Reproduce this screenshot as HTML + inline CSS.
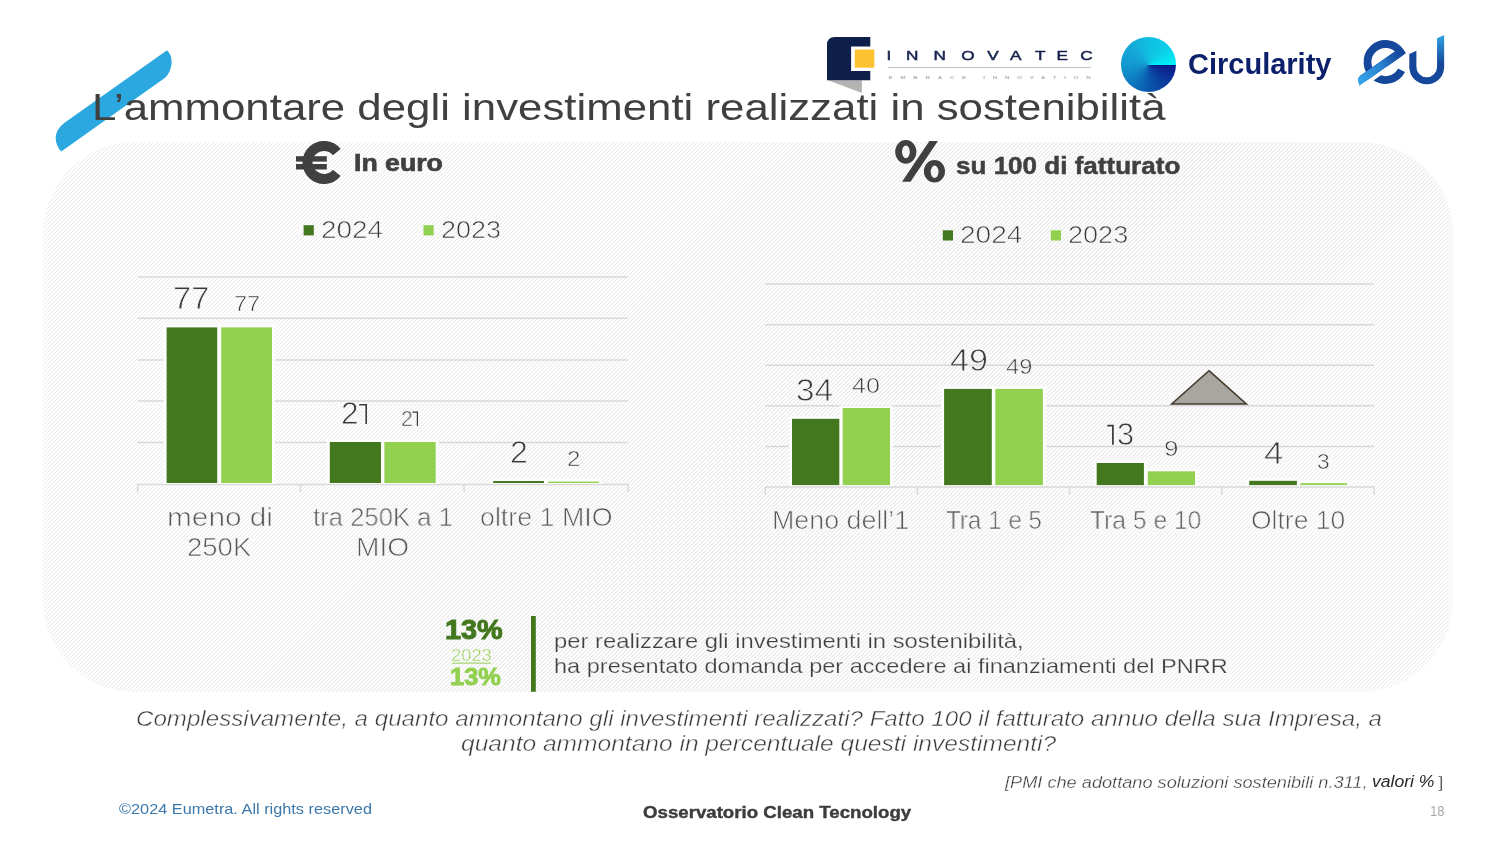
<!DOCTYPE html>
<html><head><meta charset="utf-8"><title>slide</title>
<style>
html,body{margin:0;padding:0;background:#fff;}
body{width:1500px;height:844px;position:relative;overflow:hidden;font-family:"Liberation Sans", sans-serif;}
.t{position:absolute;white-space:nowrap;line-height:1;transform-origin:0 0;will-change:transform;}
#panel{position:absolute;left:42.5px;top:141.5px;width:1410px;height:550.5px;border-radius:92px;
background:repeating-linear-gradient(135deg,#ffffff 0,#ffffff 1.3px,#ededed 1.7px,#ededed 2.35px,#ffffff 2.83px);}
svg.abs{position:absolute;left:0;top:0;will-change:transform;}
</style></head><body>
<div style="position:absolute;left:1121.3px;top:37px;width:55px;height:54.6px;border-radius:50%;z-index:5;background:conic-gradient(from 90deg at 50% 51%,#0a1c8c 0deg,#0a3a9c 45deg,#0a58ae 90deg,#0e7cc0 135deg,#1398d0 180deg,#13a8d8 225deg,#10bfe0 270deg,#0ccde7 315deg,#05e4f1 345deg,#00f2f6 360deg);"></div>
<div id="panel"></div>
<svg class="abs" width="1500" height="844" viewBox="0 0 1500 844">
<path d="M64.9 122.5L167 50.2Q172 55 171.6 63Q171 72 165.1 77.7L61.3 151.6Q56 146 55.6 138Q56 129 64.9 122.5Z" fill="#2ba8e0"/>
<line x1="137.5" x2="627.8" y1="277.1" y2="277.1" stroke="#d9d9d9" stroke-width="1.5"/>
<line x1="137.5" x2="627.8" y1="318.3" y2="318.3" stroke="#d9d9d9" stroke-width="1.5"/>
<line x1="137.5" x2="627.8" y1="359.9" y2="359.9" stroke="#d9d9d9" stroke-width="1.5"/>
<line x1="137.5" x2="627.8" y1="401.1" y2="401.1" stroke="#d9d9d9" stroke-width="1.5"/>
<line x1="137.5" x2="627.8" y1="442.4" y2="442.4" stroke="#d9d9d9" stroke-width="1.5"/>
<path d="M137.6 492V484.6H300.5V492M300.5 484.6H464.1V492M464.1 484.6H628.1V492" fill="none" stroke="#d9d9d9" stroke-width="1.5"/>
<line x1="765.2" x2="1374" y1="284.1" y2="284.1" stroke="#d9d9d9" stroke-width="1.5"/>
<line x1="765.2" x2="1374" y1="324.8" y2="324.8" stroke="#d9d9d9" stroke-width="1.5"/>
<line x1="765.2" x2="1374" y1="365.3" y2="365.3" stroke="#d9d9d9" stroke-width="1.5"/>
<line x1="765.2" x2="1374" y1="405.8" y2="405.8" stroke="#d9d9d9" stroke-width="1.5"/>
<line x1="765.2" x2="1374" y1="446.6" y2="446.6" stroke="#d9d9d9" stroke-width="1.5"/>
<path d="M765.2 494.6V487H917.4V494.6M917.4 487H1069.6V494.6M1069.6 487H1221.8V494.6M1221.8 487H1374V494.6" fill="none" stroke="#d9d9d9" stroke-width="1.5"/>
<rect x="163.6" y="324.9" width="56.6" height="159.1" fill="#fdfdfd"/>
<rect x="218.2" y="324.9" width="56.8" height="159.1" fill="#fdfdfd"/>
<rect x="326.8" y="439.5" width="57.2" height="44.5" fill="#fdfdfd"/>
<rect x="381.4" y="439.5" width="57.3" height="44.5" fill="#fdfdfd"/>
<rect x="490.2" y="478.5" width="56.8" height="5.5" fill="#fdfdfd"/>
<rect x="545.0" y="479.1" width="56.9" height="4.9" fill="#fdfdfd"/>
<rect x="789.0" y="416.3" width="53.3" height="69.8" fill="#fdfdfd"/>
<rect x="839.7" y="405.5" width="53.3" height="80.6" fill="#fdfdfd"/>
<rect x="941.1" y="386.4" width="53.7" height="99.7" fill="#fdfdfd"/>
<rect x="992.3" y="386.4" width="53.6" height="99.7" fill="#fdfdfd"/>
<rect x="1093.7" y="460.5" width="53.2" height="25.6" fill="#fdfdfd"/>
<rect x="1144.8" y="468.8" width="53.2" height="17.3" fill="#fdfdfd"/>
<rect x="1246.2" y="478.3" width="53.7" height="7.8" fill="#fdfdfd"/>
<rect x="1297.3" y="480.7" width="52.8" height="5.4" fill="#fdfdfd"/>
<rect x="166.6" y="327.4" width="50.6" height="155.6" fill="#43781f"/>
<rect x="221.2" y="327.4" width="50.8" height="155.6" fill="#92d050"/>
<rect x="329.8" y="442.0" width="51.2" height="41.0" fill="#43781f"/>
<rect x="384.4" y="442.0" width="51.3" height="41.0" fill="#92d050"/>
<rect x="493.2" y="481.0" width="50.8" height="2.0" fill="#43781f"/>
<rect x="548.0" y="481.6" width="50.9" height="1.4" fill="#92d050"/>
<rect x="792.0" y="418.8" width="47.3" height="66.3" fill="#43781f"/>
<rect x="842.7" y="408.0" width="47.3" height="77.1" fill="#92d050"/>
<rect x="944.1" y="388.9" width="47.7" height="96.2" fill="#43781f"/>
<rect x="995.3" y="388.9" width="47.6" height="96.2" fill="#92d050"/>
<rect x="1096.7" y="463.0" width="47.2" height="22.1" fill="#43781f"/>
<rect x="1147.8" y="471.3" width="47.2" height="13.8" fill="#92d050"/>
<rect x="1249.2" y="480.8" width="47.7" height="4.3" fill="#43781f"/>
<rect x="1300.3" y="483.2" width="46.8" height="1.9" fill="#92d050"/>
<rect x="303.6" y="225.2" width="10.2" height="10.2" fill="#43781f"/>
<rect x="423.5" y="225.2" width="10.2" height="10.2" fill="#92d050"/>
<rect x="942.8" y="230.3" width="10.2" height="10.2" fill="#43781f"/>
<rect x="1050.8" y="230.3" width="10.2" height="10.2" fill="#92d050"/>
<path d="M1209 370.7L1246.3 403.95H1171.7Z" fill="#a9a5a0" stroke="#463c30" stroke-width="1.6" stroke-linejoin="miter"/>
<path d="M359.2 404.8H366.2V424.1" fill="none" stroke="#3a3a3a" stroke-width="1.6"/>
<path d="M412.5 412.2H417.4V426.1" fill="none" stroke="#3a3a3a" stroke-width="1.2"/>
<path d="M1107.3 425.7H1112.9V444.8" fill="none" stroke="#3a3a3a" stroke-width="1.7"/>
<rect x="531" y="616" width="4.8" height="75.8" fill="#43781f"/>
<rect x="452" y="662.6" width="39" height="1" fill="#92d050"/>
<path d="M336.82 152.07A16.5 16.5 0 1 0 336.82 172.83" fill="none" stroke="#404040" stroke-width="10"/>
<rect x="296" y="156.2" width="30.8" height="5.4" fill="#404040"/>
<rect x="296" y="164" width="30.8" height="5.5" fill="#404040"/>
<path fill-rule="evenodd" fill="#404040" d="M895.2 151.8a10.6 11.9 0 1 0 21.2 0a10.6 11.9 0 1 0 -21.2 0ZM902 151.8a3.9 6.35 0 1 0 7.8 0a3.9 6.35 0 1 0 -7.8 0Z"/>
<path fill-rule="evenodd" fill="#404040" d="M923.9 171.2a10.55 11.3 0 1 0 21.1 0a10.55 11.3 0 1 0 -21.1 0ZM930.7 171.8a3.9 6.2 0 1 0 7.8 0a3.9 6.2 0 1 0 -7.8 0Z"/>
<path fill="#404040" d="M929.4 141H937.9L910.5 181.8H902Z"/>
<path d="M828 80.3H861.9V93Z" fill="#b3b3b3"/>
<path d="M835 37H870.3V46.6H851.1V71H870.3V80.3H827V45Q827 37 835 37Z" fill="#0f1f4b"/>
<rect x="854.8" y="49.5" width="19.5" height="18.2" fill="#fcc230"/>
<text transform="translate(889,59.8) scale(1.42,1)" text-anchor="middle" font-size="12.1" font-weight="400" stroke="#16224d" stroke-width="0.45" fill="#16224d" font-family="Liberation Sans">I</text>
<text transform="translate(912.1,59.8) scale(1.42,1)" text-anchor="middle" font-size="12.1" font-weight="400" stroke="#16224d" stroke-width="0.45" fill="#16224d" font-family="Liberation Sans">N</text>
<text transform="translate(939.7,59.8) scale(1.42,1)" text-anchor="middle" font-size="12.1" font-weight="400" stroke="#16224d" stroke-width="0.45" fill="#16224d" font-family="Liberation Sans">N</text>
<text transform="translate(967.85,59.8) scale(1.42,1)" text-anchor="middle" font-size="12.1" font-weight="400" stroke="#16224d" stroke-width="0.45" fill="#16224d" font-family="Liberation Sans">O</text>
<text transform="translate(993,59.8) scale(1.42,1)" text-anchor="middle" font-size="12.1" font-weight="400" stroke="#16224d" stroke-width="0.45" fill="#16224d" font-family="Liberation Sans">V</text>
<text transform="translate(1015.65,59.8) scale(1.42,1)" text-anchor="middle" font-size="12.1" font-weight="400" stroke="#16224d" stroke-width="0.45" fill="#16224d" font-family="Liberation Sans">A</text>
<text transform="translate(1040.3,59.8) scale(1.42,1)" text-anchor="middle" font-size="12.1" font-weight="400" stroke="#16224d" stroke-width="0.45" fill="#16224d" font-family="Liberation Sans">T</text>
<text transform="translate(1062.2,59.8) scale(1.42,1)" text-anchor="middle" font-size="12.1" font-weight="400" stroke="#16224d" stroke-width="0.45" fill="#16224d" font-family="Liberation Sans">E</text>
<text transform="translate(1086.45,59.8) scale(1.42,1)" text-anchor="middle" font-size="12.1" font-weight="400" stroke="#16224d" stroke-width="0.45" fill="#16224d" font-family="Liberation Sans">C</text>
<rect x="888" y="67.1" width="203" height="0.7" fill="#a6aab5"/>
<text transform="translate(888.6,78.9) scale(0.62,0.42)" font-size="10" font-weight="700" fill="#b0b0b0" font-family="Liberation Sans" textLength="326" lengthAdjust="spacing">EMBRACE  INNOVATION</text>
<defs><linearGradient id="gu" gradientUnits="userSpaceOnUse" x1="0" y1="36" x2="0" y2="64"><stop offset="0" stop-color="#2fa0e2"/><stop offset="1" stop-color="#15479b"/></linearGradient><linearGradient id="ge" gradientUnits="userSpaceOnUse" x1="1358" y1="82" x2="1400" y2="52.6"><stop offset="0" stop-color="#37a6e6"/><stop offset="0.55" stop-color="#2a82d3"/><stop offset="0.85" stop-color="#1a56a9"/><stop offset="1" stop-color="#15479b"/></linearGradient></defs>
<path d="M1362 79.25L1400.61 52.22A18.0 18.0 0 1 0 1401.54 70.17" fill="none" stroke="#15479b" stroke-width="7.8" stroke-linejoin="miter" stroke-miterlimit="10"/>
<path d="M1364.6 84.4L1387.3 68.5" fill="none" stroke="#fff" stroke-width="3.8"/>
<path d="M1359.4 85.7L1357.9 81Q1357.5 77.6 1360.6 75.6L1399.0 48.72L1402.5 55.47Z" fill="url(#ge)"/>
<path d="M1409.3 54L1416.4 50.7V67.2H1409.3Z" fill="#15479b"/>
<path d="M1412.85 66.9A13.875 13.875 0 0 0 1440.6 66.9" fill="none" stroke="#15479b" stroke-width="7.1"/>
<path d="M1437.05 38.3L1444.15 35V67.2H1437.05Z" fill="url(#gu)"/>
</svg>
<div class="t" style="left:92.28px;top:88.87px;font-size:37.6px;color:#404040;transform:scaleX(1.1655);">L’ammontare degli investimenti realizzati in sostenibilità</div>
<div class="t" style="left:354.12px;top:151.08px;font-size:24px;color:#404040;transform:scaleX(1.1103);font-weight:700;-webkit-text-stroke:0.7px #404040;">In euro</div>
<div class="t" style="left:956.33px;top:153.98px;font-size:24px;color:#404040;transform:scaleX(1.0851);font-weight:700;-webkit-text-stroke:0.5px #404040;">su 100 di fatturato</div>
<div class="t" style="left:320.67px;top:217.75px;font-size:24.77px;color:#3a3a3a;transform:scaleX(1.1265);-webkit-text-stroke:0.7px #f7f7f7;">2024</div>
<div class="t" style="left:440.61px;top:217.75px;font-size:24.77px;color:#3a3a3a;transform:scaleX(1.0877);-webkit-text-stroke:0.7px #f7f7f7;">2023</div>
<div class="t" style="left:960.26px;top:223.25px;font-size:24.77px;color:#3a3a3a;transform:scaleX(1.1340);-webkit-text-stroke:0.7px #f7f7f7;">2024</div>
<div class="t" style="left:1068.21px;top:223.25px;font-size:24.77px;color:#3a3a3a;transform:scaleX(1.0934);-webkit-text-stroke:0.7px #f7f7f7;">2023</div>
<div class="t" style="left:172.85px;top:283.92px;font-size:30.88px;color:#3a3a3a;transform:scaleX(1.0566);-webkit-text-stroke:0.8px #f7f7f7;">77</div>
<div class="t" style="left:233.79px;top:293.10px;font-size:22.06px;color:#3a3a3a;transform:scaleX(1.0676);-webkit-text-stroke:0.6px #f7f7f7;">77</div>
<div class="t" style="left:341.20px;top:398.82px;font-size:30.88px;color:#3a3a3a;transform:scaleX(1.0252);-webkit-text-stroke:0.8px #f7f7f7;">2</div>
<div class="t" style="left:400.71px;top:408.20px;font-size:22.06px;color:#3a3a3a;transform:scaleX(0.9584);-webkit-text-stroke:0.6px #f7f7f7;">2</div>
<div class="t" style="left:509.78px;top:437.82px;font-size:30.88px;color:#3a3a3a;transform:scaleX(1.0391);-webkit-text-stroke:0.8px #f7f7f7;">2</div>
<div class="t" style="left:567.15px;top:448.20px;font-size:22.06px;color:#3a3a3a;transform:scaleX(1.0970);-webkit-text-stroke:0.6px #f7f7f7;">2</div>
<div class="t" style="left:796.34px;top:376.02px;font-size:30.88px;color:#3a3a3a;transform:scaleX(1.0806);-webkit-text-stroke:0.8px #f7f7f7;">34</div>
<div class="t" style="left:852.29px;top:375.00px;font-size:22.06px;color:#3a3a3a;transform:scaleX(1.1380);-webkit-text-stroke:0.6px #f7f7f7;">40</div>
<div class="t" style="left:949.74px;top:346.32px;font-size:30.88px;color:#3a3a3a;transform:scaleX(1.1112);-webkit-text-stroke:0.8px #f7f7f7;">49</div>
<div class="t" style="left:1005.72px;top:355.50px;font-size:22.06px;color:#3a3a3a;transform:scaleX(1.0742);-webkit-text-stroke:0.6px #f7f7f7;">49</div>
<div class="t" style="left:1116.92px;top:420.12px;font-size:30.88px;color:#3a3a3a;transform:scaleX(0.9989);-webkit-text-stroke:0.8px #f7f7f7;">3</div>
<div class="t" style="left:1163.68px;top:437.90px;font-size:22.06px;color:#3a3a3a;transform:scaleX(1.1825);-webkit-text-stroke:0.6px #f7f7f7;">9</div>
<div class="t" style="left:1263.54px;top:439.12px;font-size:30.88px;color:#3a3a3a;transform:scaleX(1.1267);-webkit-text-stroke:0.8px #f7f7f7;">4</div>
<div class="t" style="left:1317.03px;top:450.90px;font-size:22.06px;color:#3a3a3a;transform:scaleX(1.0362);-webkit-text-stroke:0.6px #f7f7f7;">3</div>
<div class="t" style="left:166.66px;top:503.88px;font-size:26.27px;color:#595959;transform:scaleX(1.1340);-webkit-text-stroke:0.7px #f7f7f7;">meno di</div>
<div class="t" style="left:186.63px;top:533.98px;font-size:26.27px;color:#595959;transform:scaleX(1.0471);-webkit-text-stroke:0.7px #f7f7f7;">250K</div>
<div class="t" style="left:312.72px;top:503.88px;font-size:26.27px;color:#595959;transform:scaleX(0.9775);-webkit-text-stroke:0.7px #f7f7f7;">tra 250K a 1</div>
<div class="t" style="left:356.32px;top:533.98px;font-size:26.27px;color:#595959;transform:scaleX(1.0719);-webkit-text-stroke:0.7px #f7f7f7;">MIO</div>
<div class="t" style="left:479.98px;top:503.88px;font-size:26.27px;color:#595959;transform:scaleX(1.0203);-webkit-text-stroke:0.7px #f7f7f7;">oltre 1 MIO</div>
<div class="t" style="left:772.32px;top:506.78px;font-size:26.27px;color:#595959;transform:scaleX(1.0215);-webkit-text-stroke:0.7px #f7f7f7;">Meno dell’1</div>
<div class="t" style="left:945.64px;top:506.78px;font-size:26.27px;color:#595959;transform:scaleX(0.9209);-webkit-text-stroke:0.7px #f7f7f7;">Tra 1 e 5</div>
<div class="t" style="left:1090.34px;top:506.78px;font-size:26.27px;color:#595959;transform:scaleX(0.9368);-webkit-text-stroke:0.7px #f7f7f7;">Tra 5 e 10</div>
<div class="t" style="left:1251.18px;top:506.78px;font-size:26.27px;color:#595959;transform:scaleX(1.0087);-webkit-text-stroke:0.7px #f7f7f7;">Oltre 10</div>
<div class="t" style="left:444.70px;top:616.12px;font-size:27.5px;color:#43781f;transform:scaleX(1.0485);font-weight:700;-webkit-text-stroke:1.0px #43781f;">13%</div>
<div class="t" style="left:450.96px;top:647.91px;font-size:16.74px;color:#92d050;transform:scaleX(1.0949);-webkit-text-stroke:0.4px #f7f7f7;">2023</div>
<div class="t" style="left:450.44px;top:665.16px;font-size:24.5px;color:#92d050;transform:scaleX(1.0372);font-weight:700;-webkit-text-stroke:0.9px #92d050;">13%</div>
<div class="t" style="left:554.41px;top:630.63px;font-size:20.77px;color:#404040;transform:scaleX(1.1463);-webkit-text-stroke:0.25px #f7f7f7;">per realizzare gli investimenti in sostenibilità,</div>
<div class="t" style="left:554.31px;top:655.63px;font-size:20.77px;color:#404040;transform:scaleX(1.1333);-webkit-text-stroke:0.25px #f7f7f7;">ha presentato domanda per accedere ai finanziamenti del PNRR</div>
<div class="t" style="left:135.89px;top:708.90px;font-size:21.5px;color:#3a3a3a;transform:scaleX(1.1223);font-style:italic;-webkit-text-stroke:0.45px #ffffff;">Complessivamente, a quanto ammontano gli investimenti realizzati? Fatto 100 il fatturato annuo della sua Impresa, a</div>
<div class="t" style="left:461.02px;top:733.60px;font-size:21.5px;color:#3a3a3a;transform:scaleX(1.1422);font-style:italic;-webkit-text-stroke:0.45px #ffffff;">quanto ammontano in percentuale questi investimenti?</div>
<div class="t" style="left:118.78px;top:801.20px;font-size:15px;color:#3b78ac;transform:scaleX(1.0864);">©2024 Eumetra. All rights reserved</div>
<div class="t" style="left:642.61px;top:804.19px;font-size:16.2px;color:#3c3c3c;transform:scaleX(1.1526);font-weight:700;-webkit-text-stroke:0.4px #3c3c3c;">Osservatorio Clean Tecnology</div>
<div class="t" style="left:1429.84px;top:802.80px;font-size:15px;color:#a6a6a6;transform:scaleX(0.8700);">18</div>
<div class="t" style="left:1005.31px;top:774.32px;font-size:17.03px;color:#3c3c3c;transform:scaleX(1.0684);font-style:italic;-webkit-text-stroke:0.3px #ffffff;">[PMI che adottano soluzioni sostenibili n.311,</div>
<div class="t" style="left:1371.56px;top:774.29px;font-size:16.9px;color:#262626;transform:scaleX(1.0397);font-style:italic;">valori %</div>
<div class="t" style="left:1437.56px;top:774.32px;font-size:17.03px;color:#3c3c3c;transform:scaleX(1.1543);-webkit-text-stroke:0.3px #ffffff;">]</div>
<div class="t" style="left:1188.20px;top:50.15px;font-size:29px;color:#0b1f6b;transform:scaleX(0.9978);font-weight:700;">Circularity</div>
</body></html>
